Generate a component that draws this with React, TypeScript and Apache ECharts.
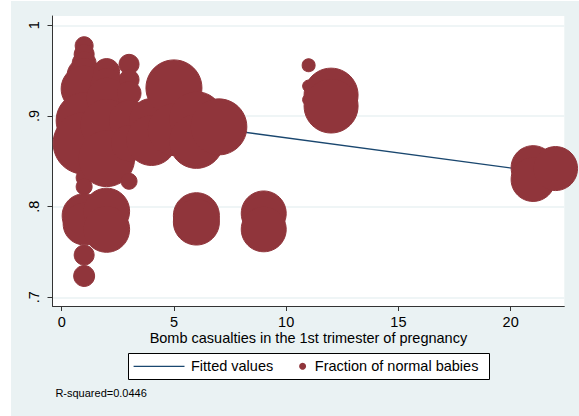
import React, { useEffect, useRef } from "react";
import * as echarts from "echarts";

// ---- data ----
const bubbleX = [1, 1, 1, 1, 1, 1, 1, 1, 1, 1, 1, 1, 1, 2, 2, 2, 2, 2, 2, 2, 3, 3, 3, 3, 3, 3, 4, 4, 5, 5, 6, 6, 6, 6, 7, 9, 9, 11, 11, 11, 12, 12, 21, 21, 22];
const bubbleY = [0.9775, 0.968, 0.958, 0.945, 0.93, 0.895, 0.87, 0.832, 0.822, 0.79, 0.781, 0.7466, 0.7235, 0.949, 0.935, 0.92, 0.89, 0.853, 0.795, 0.775, 0.957, 0.94, 0.925, 0.895, 0.87, 0.828, 0.895, 0.873, 0.931, 0.885, 0.897, 0.872, 0.79, 0.783, 0.888, 0.7925, 0.775, 0.956, 0.933, 0.918, 0.923, 0.911, 0.843, 0.83, 0.842];
const bubbleWeight = [81, 100, 144, 289, 529, 784, 961, 64, 64, 484, 441, 100, 110, 169, 256, 400, 676, 784, 529, 529, 100, 100, 144, 400, 324, 64, 484, 625, 784, 676, 729, 729, 529, 529, 784, 506, 506, 42, 36, 36, 729, 729, 484, 484, 484];

const fitX = [0, 22];
const fitY = [0.9093, 0.8359];

const xTicks = [0, 5, 10, 15, 20];
const yTicks = [0.7, 0.8, 0.9, 1];
const yTickLabels = [".7", ".8", ".9", "1"];

const xTitle = "Bomb casualties in the 1st trimester of pregnancy";
const legendNames = ["Fitted values", "Fraction of normal babies"];
const noteText = "R-squared=0.0446";

// ---- styles ----
const FONT = "'Liberation Sans', Arial, sans-serif";
const LINE_COLOR = "#1A476F";
const MARKER_COLOR = "#90353B";
const BG = "#EAF2F3";

export default function App() {
  const ref = useRef<HTMLDivElement>(null);

  useEffect(() => {
    if (!ref.current) return;
    const chart = echarts.init(ref.current, undefined, { renderer: "svg" });

    const option: any = {
      animation: false,
      backgroundColor: BG,
      grid: {
        left: 41.5,
        top: 15,
        right: 14.7,
        bottom: 110,
        show: true,
        backgroundColor: "#fff",
        borderWidth: 0,
        containLabel: false,
        outerBoundsMode: "none",
      },
      xAxis: {
        type: "value",
        min: -0.41,
        max: 22.39,
        name: xTitle,
        nameLocation: "middle",
        nameGap: 24,
        nameMoveOverlap: false,
        nameTextStyle: { fontFamily: FONT, fontSize: 14.5, color: "#000" },
        axisLine: { show: true, onZero: false, lineStyle: { color: "#333", width: 1 } },
        axisTick: { show: true, length: 5, customValues: xTicks, lineStyle: { color: "#333" } },
        axisLabel: {
          show: true,
          customValues: xTicks,
          margin: 8.5,
          fontFamily: FONT,
          fontSize: 14.5,
          color: "#000",
        },
        splitLine: { show: false },
      },
      yAxis: {
        type: "value",
        min: 0.6904,
        max: 1.0103,
        axisLine: { show: true, onZero: false, lineStyle: { color: "#333", width: 1 } },
        axisTick: { show: true, length: 5, customValues: yTicks, lineStyle: { color: "#333" } },
        axisLabel: {
          show: true,
          customValues: yTicks,
          rotate: 90,
          margin: 11,
          fontFamily: FONT,
          fontSize: 14.5,
          color: "#000",
          formatter: (v: number) => {
            let best = 0;
            for (let i = 0; i < yTicks.length; i++) {
              if (Math.abs(yTicks[i] - v) < Math.abs(yTicks[best] - v)) best = i;
            }
            return yTickLabels[best];
          },
        },
        splitLine: { show: true, lineStyle: { color: BG, width: 1.5 } },
      },
      series: [
        {
          name: legendNames[0],
          type: "line",
          z: 1,
          data: fitX.map((x, i) => [x, fitY[i]]),
          symbol: "none",
          lineStyle: { color: LINE_COLOR, width: 1.3 },
          silent: true,
        },
        {
          name: legendNames[1],
          type: "scatter",
          z: 3,
          data: bubbleX.map((x, i) => [x, bubbleY[i], bubbleWeight[i]]),
          symbolSize: (d: number[]) => 2 * Math.sqrt(d[2]),
          itemStyle: { color: MARKER_COLOR, opacity: 1, borderWidth: 1, borderColor: MARKER_COLOR },
          emphasis: { disabled: true },
          silent: true,
        },
      ],
      graphic: [
        {
          type: "rect",
          shape: { x: 117.5, y: 352.5, width: 361, height: 26 },
          style: { fill: "#fff", stroke: "#000", lineWidth: 1 },
          silent: true,
        },
        {
          type: "line",
          shape: { x1: 122.6, y1: 365.3, x2: 173.5, y2: 365.3 },
          style: { stroke: LINE_COLOR, lineWidth: 1.3 },
          silent: true,
        },
        {
          type: "text",
          x: 180,
          y: 365.3,
          style: {
            text: legendNames[0],
            fill: "#000",
            font: `14.5px ${FONT}`,
            verticalAlign: "middle",
            align: "left",
          },
          silent: true,
        },
        {
          type: "circle",
          shape: { cx: 291.6, cy: 365.3, r: 3.5 },
          style: { fill: MARKER_COLOR },
          silent: true,
        },
        {
          type: "text",
          x: 303.8,
          y: 365.3,
          style: {
            text: legendNames[1],
            fill: "#000",
            font: `14.5px ${FONT}`,
            verticalAlign: "middle",
            align: "left",
          },
          silent: true,
        },
        {
          type: "text",
          x: 44.4,
          y: 392.3,
          style: {
            text: noteText,
            fill: "#000",
            font: `11px ${FONT}`,
            verticalAlign: "middle",
            align: "left",
          },
          silent: true,
        },
      ],
    };

    chart.setOption(option);
    return () => chart.dispose();
  }, []);

  return (
    <div style={{ position: "fixed", left: 0, top: 0, width: 579, height: 416, background: "#fff" }}>
      <div ref={ref} style={{ position: "absolute", left: 11, top: 1, width: 568, height: 415 }} />
    </div>
  );
}
